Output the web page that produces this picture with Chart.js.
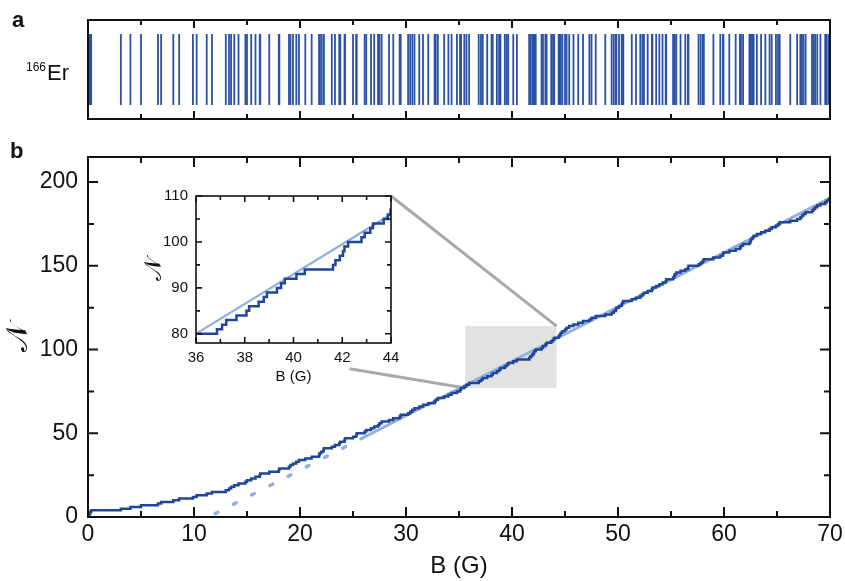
<!DOCTYPE html>
<html>
<head>
<meta charset="utf-8">
<script src="https://cdn.jsdelivr.net/npm/chart.js@4.4.0/dist/chart.umd.min.js"></script>
<style>
  body { margin: 0; background: #fff; width: 845px; height: 581px; position: relative; overflow: hidden;
         font-family: "Liberation Sans", Arial, sans-serif; color: #111; }
  canvas { position: absolute; }
  #stripCv { left: 0; top: 0; }
  #mainCv { left: 0; top: 140px; }
  #insetCv { left: 140px; top: 186px; }
  .panel { position: absolute; font-weight: bold; font-size: 22px; }
  .iso { position: absolute; left: 26px; top: 60px; font-size: 22px; }
  .iso sup { font-size: 12px; vertical-align: 9px; margin-right: 1px; }
</style>
</head>
<body>
<canvas id="stripCv" width="845" height="135"></canvas>
<canvas id="mainCv" width="845" height="441"></canvas>
<canvas id="insetCv" width="260" height="200"></canvas>
<div class="panel" style="left:12px;top:7px">a</div>
<div class="panel" style="left:10px;top:138px">b</div>
<div class="iso"><sup>166</sup>Er</div>
<script>
// Feshbach resonance positions (G), sorted
const resonanceFields = [
  0.05, 0.12, 0.2, 0.3, 3.1, 4.0, 5.0, 6.6, 6.9, 8.05, 8.6, 9.9,
  10.25, 11.2, 11.7, 13.0, 13.3, 13.5, 13.8, 14.2, 14.85, 15.0, 15.4, 15.8,
  16.2, 16.25, 17.1, 18.0, 18.05, 18.96, 19.1, 19.34, 19.65, 19.9,
  20.5, 21.1, 21.8, 21.85, 22.0, 22.2, 22.25, 23.0, 23.3, 23.7, 23.8, 24.2,
  24.25, 25.0, 25.3, 25.35,
  26.1, 26.25, 26.7, 27.0, 27.36, 27.5, 27.7, 28.4, 28.8, 29.4, 29.5,
  30.2, 30.4, 30.6, 30.8, 31.25, 31.6, 32.1, 32.7, 32.8, 33.0, 33.6, 34.0,
  34.3, 34.8, 35.1, 35.2, 35.5, 35.7, 35.95,
  36.86, 37.07, 37.24, 37.66, 38.07, 38.18, 38.57, 38.78, 38.91, 39.32, 39.49,
  39.64, 40.12, 40.46, 41.62, 41.72, 41.9, 42.03, 42.09, 42.24, 42.79, 42.92,
  43.15, 43.26, 43.7, 43.87, 43.98,
  44.4, 44.5, 44.6, 44.75, 45.0, 45.15, 45.4, 45.8, 46.25, 46.7, 47.3, 47.5,
  47.9, 48.8, 49.4, 49.6, 49.8, 49.85,
  50.1, 50.35, 50.4, 50.5, 51.3, 51.7, 52.1, 52.3, 52.45, 52.8, 53.2, 53.25,
  53.6, 53.9, 54.2, 54.5, 54.55,
  55.2, 55.3, 55.35, 55.5, 55.9, 56.35, 56.6, 56.65, 57.6, 57.8, 58.0, 58.1,
  59.0, 59.65, 59.9, 59.95,
  60.5, 61.1, 61.5, 61.6, 61.8, 62.4, 62.5, 62.55, 62.7, 62.8, 63.1, 63.5,
  63.9, 64.3, 64.5, 64.9,
  65.1, 65.25, 66.25, 66.9, 67.2, 67.35, 67.5, 67.7, 68.3, 68.45, 68.6, 68.8,
  69.1, 69.55, 69.7, 69.9
];

// linear fit to the count: dotted below 26 G, solid above
const fitB = [12, 26, 70];
const fitN = [2, 47.5, 190.5];

// zoomed window shown in the inset
const zoomB = [35.6, 44.2];
const zoomN = [77, 114];

const mainBTicks = [0, 10, 20, 30, 40, 50, 60, 70];
const mainNTicks = [0, 50, 100, 150, 200];
const insetBTicks = [36, 38, 40, 42, 44];
const insetNTicks = [80, 90, 100, 110];

const darkBlue = '#1f4698';
const lightBlue = '#92afe0';
const sans = '"Liberation Sans", Arial, sans-serif';
const scriptN = '\u{1D4A9}';

// cumulative number of resonances below B
const stairs = [{ x: 0, y: 0 }];
resonanceFields.forEach((b, i) => stairs.push({ x: b, y: i + 1 }));
stairs.push({ x: 70, y: resonanceFields.length });

const fitSolid = [{ x: fitB[1], y: fitN[1] }, { x: fitB[2], y: fitN[2] }];
const fitDotted = [{ x: fitB[0], y: fitN[0] }, { x: fitB[1], y: fitN[1] }];

// box frame plus inward ticks on every side
const frameTicks = {
  id: 'frameTicks',
  afterDatasetsDraw(chart, args, o) {
    const { ctx, chartArea: a } = chart;
    const { x, y } = chart.scales;
    ctx.save();
    ctx.strokeStyle = '#111';
    ctx.lineWidth = o.lineWidth;
    ctx.beginPath();
    const isMajor = (v, m) => Math.abs(v / m - Math.round(v / m)) < 1e-6;
    if (o.xStep) {
      for (let v = Math.ceil(x.min / o.xStep) * o.xStep; v <= x.max + 1e-9; v += o.xStep) {
        const px = x.getPixelForValue(v);
        const len = isMajor(v, o.xMajor) ? o.major : o.minor;
        ctx.moveTo(px, a.bottom); ctx.lineTo(px, a.bottom - len);
        ctx.moveTo(px, a.top); ctx.lineTo(px, a.top + len);
      }
    }
    if (o.yStep) {
      for (let v = Math.ceil(y.min / o.yStep) * o.yStep; v <= y.max + 1e-9; v += o.yStep) {
        const py = y.getPixelForValue(v);
        const len = isMajor(v, o.yMajor) ? o.major : o.minor;
        ctx.moveTo(a.left, py); ctx.lineTo(a.left + len, py);
        ctx.moveTo(a.right, py); ctx.lineTo(a.right - len, py);
      }
    }
    ctx.stroke();
    ctx.strokeRect(a.left, a.top, a.right - a.left, a.bottom - a.top);
    ctx.restore();
  }
};

const whitePlot = {
  id: 'whitePlot',
  beforeDraw(chart) {
    const { ctx, chartArea: a } = chart;
    ctx.save();
    ctx.fillStyle = '#fff';
    ctx.fillRect(a.left, a.top, a.right - a.left, a.bottom - a.top);
    ctx.restore();
  }
};

// panel a: one bar per resonance
new Chart(document.getElementById('stripCv'), {
  type: 'scatter',
  data: {
    datasets: [{
      data: resonanceFields.map(b => ({ x: b, y: 0.5 })),
      pointStyle: 'line',
      pointRotation: 90,
      pointRadius: 35.5,
      pointBorderWidth: 1.8,
      pointBorderColor: '#2a51a4',
      pointBackgroundColor: '#2a51a4'
    }]
  },
  options: {
    responsive: false,
    animation: false,
    events: [],
    layout: { autoPadding: false, padding: { left: 88, right: 15, top: 20, bottom: 16 } },
    scales: {
      x: { type: 'linear', min: 0, max: 70, display: false },
      y: { type: 'linear', min: 0, max: 1, display: false }
    },
    plugins: {
      legend: { display: false },
      tooltip: { enabled: false },
      frameTicks: { lineWidth: 2, xStep: 5, xMajor: 10, major: 8, minor: 5 }
    }
  },
  plugins: [frameTicks]
});

// axes with fixed box sizes so the plot frame lands where it should
function countAxes(bMin, bMax, nMin, nMax, bTicks, nTicks, sz) {
  const font = { family: sans, size: sz.tick };
  return {
    x: {
      type: 'linear', min: bMin, max: bMax,
      grid: { display: false, drawTicks: false },
      border: { display: false },
      afterBuildTicks: s => { s.ticks = bTicks.map(v => ({ value: v })); },
      afterFit: s => { s.height = sz.xh; s.paddingLeft = 0; s.paddingRight = 0; },
      ticks: { font, color: '#111', padding: sz.xpad, maxRotation: 0 },
      title: { display: true, text: 'B (G)', font: { family: sans, size: sz.title }, color: '#111',
               padding: { top: 0, bottom: sz.xtitle } }
    },
    y: {
      type: 'linear', min: nMin, max: nMax,
      grid: { display: false, drawTicks: false },
      border: { display: false },
      afterBuildTicks: s => { s.ticks = nTicks.map(v => ({ value: v })); },
      afterFit: s => { s.width = sz.yw; s.paddingTop = 0; s.paddingBottom = 0; },
      ticks: { font, color: '#111', padding: sz.ypad },
      title: {
        display: true, text: scriptN, color: '#111',
        font: { family: '"DejaVu Serif", "Noto Sans", serif', size: sz.nsize },
        padding: { top: sz.ytitle, bottom: 0 }
      }
    }
  };
}

// inset: 36-44 G window
const inset = new Chart(document.getElementById('insetCv'), {
  type: 'scatter',
  data: {
    datasets: [
      { data: stairs, showLine: true, stepped: true, borderColor: darkBlue, borderWidth: 2.5, pointRadius: 0, order: 0 },
      { data: fitSolid, showLine: true, borderColor: lightBlue, borderWidth: 2.2, pointRadius: 0, order: 1 }
    ]
  },
  options: {
    responsive: false,
    animation: false,
    events: [],
    layout: { autoPadding: false, padding: { top: 10, right: 9 } },
    scales: countAxes(36, 44, 78, 110, insetBTicks, insetNTicks,
      { tick: 15, title: 15, nsize: 24, xh: 43, yw: 56, xpad: 6, ypad: 8, xtitle: 0, ytitle: 0 }),
    plugins: {
      legend: { display: false },
      tooltip: { enabled: false },
      frameTicks: { lineWidth: 1.6, xStep: 1, xMajor: 2, yStep: 5, yMajor: 10, major: 6, minor: 4 }
    }
  },
  plugins: [whitePlot, frameTicks]
});

// shaded window and the two leader lines to the inset
const insetOffset = { x: 140 - 0, y: 186 - 140 };
const zoomBox = {
  id: 'zoomBox',
  beforeDatasetsDraw(chart) {
    const { ctx } = chart;
    const { x, y } = chart.scales;
    const l = x.getPixelForValue(zoomB[0]), r = x.getPixelForValue(zoomB[1]);
    const t = y.getPixelForValue(zoomN[1]), b = y.getPixelForValue(zoomN[0]);
    ctx.save();
    ctx.fillStyle = '#e2e2e2';
    ctx.fillRect(l, t, r - l, b - t);
    const ia = inset.chartArea;
    const tr = { x: ia.right + insetOffset.x, y: ia.top + insetOffset.y };
    const bl = { x: ia.left + insetOffset.x, y: ia.bottom + insetOffset.y };
    const s = 0.57;
    ctx.strokeStyle = '#a9a9a9';
    ctx.lineWidth = 3;
    ctx.beginPath();
    ctx.moveTo(tr.x, tr.y); ctx.lineTo(r, t);
    ctx.moveTo(bl.x + (l - bl.x) * s, bl.y + (b - bl.y) * s); ctx.lineTo(l, b);
    ctx.stroke();
    ctx.restore();
  }
};

// panel b: counting function with linear fit
new Chart(document.getElementById('mainCv'), {
  type: 'scatter',
  data: {
    datasets: [
      { data: stairs, showLine: true, stepped: true, borderColor: darkBlue, borderWidth: 2.5, pointRadius: 0, order: 0 },
      { data: fitSolid, showLine: true, borderColor: lightBlue, borderWidth: 3, pointRadius: 0, order: 1 },
      { data: fitDotted, showLine: true, borderColor: lightBlue, borderWidth: 3.5, borderDash: [3, 17.5],
        borderCapStyle: 'round', pointRadius: 0, order: 1 }
    ]
  },
  options: {
    responsive: false,
    animation: false,
    events: [],
    layout: { autoPadding: false, padding: { top: 17, right: 15 } },
    scales: countAxes(0, 70, 0, 215, mainBTicks, mainNTicks,
      { tick: 23, title: 24, nsize: 30, xh: 64, yw: 88, xpad: 4, ypad: 10, xtitle: 0, ytitle: 1 }),
    plugins: {
      legend: { display: false },
      tooltip: { enabled: false },
      frameTicks: { lineWidth: 2, xStep: 5, xMajor: 10, yStep: 25, yMajor: 50, major: 10, minor: 6 }
    }
  },
  plugins: [zoomBox, frameTicks]
});
</script>
</body>
</html>
